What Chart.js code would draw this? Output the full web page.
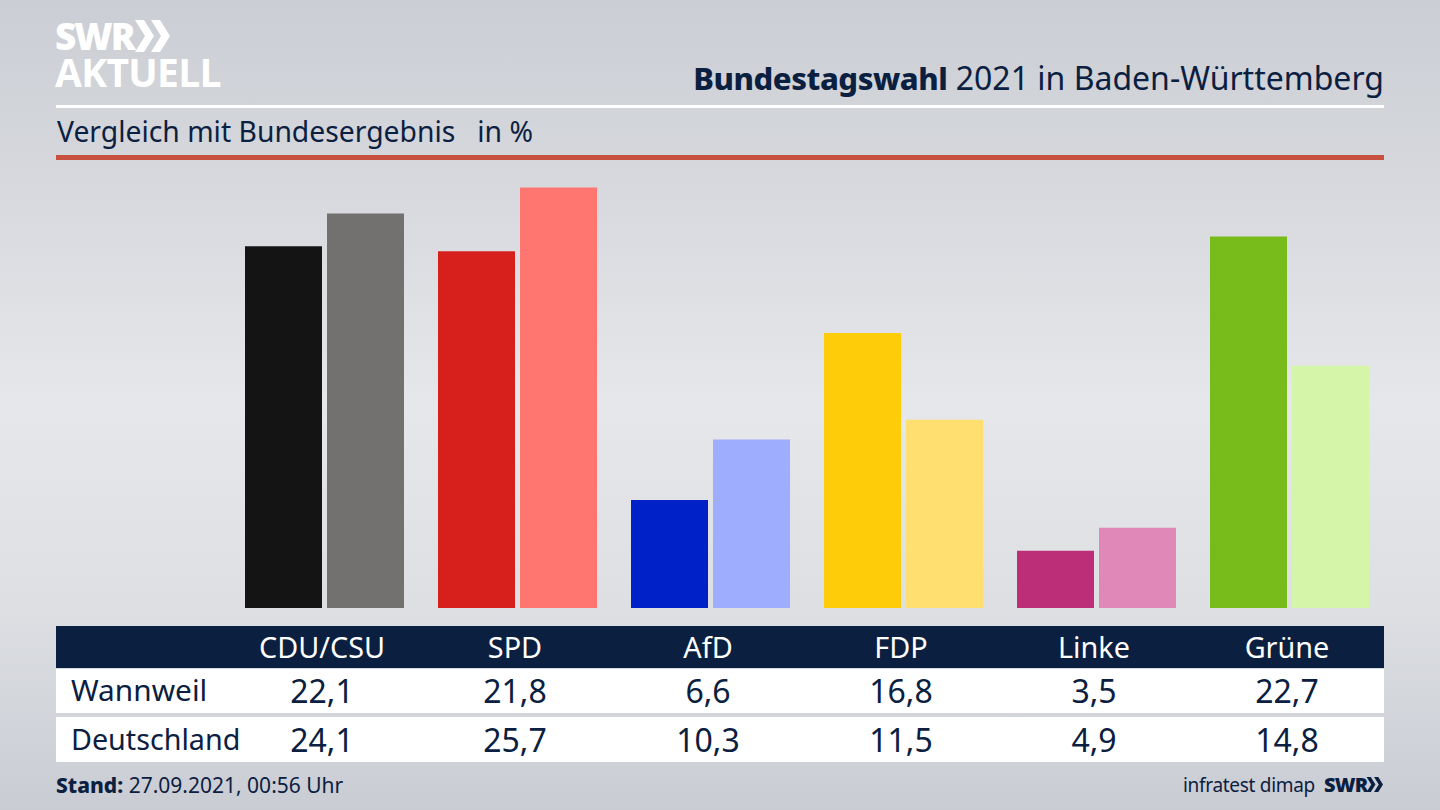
<!DOCTYPE html>
<html lang="de">
<head>
<meta charset="UTF-8">
<title>Bundestagswahl 2021 in Baden-Württemberg</title>
<script src="https://cdn.jsdelivr.net/npm/chart.js"></script>
<style>
  html, body { margin: 0; padding: 0; }
  body {
    width: 1440px; height: 810px; position: relative; overflow: hidden;
    background: linear-gradient(180deg, #cbced4 0%, #d6d8dd 22%, #e6e7ea 50%, #dddfe3 75%, #c9ccd3 100%);
    font-family: "Noto Sans", sans-serif; color: #0b2040;
  }
  .abs { position: absolute; white-space: nowrap; }
  #logo1, #logo2 { color: #fff; font-weight: 800; font-family: "Open Sans", sans-serif; line-height: 1; }
  #logo1 { left: 55px; top: 17px; font-size: 37px; letter-spacing: -2px; }
  #logo2 { left: 55px; top: 52px; font-size: 39px; letter-spacing: -.7px; font-weight: 700; }
  #title { right: 56px; top: 58px; font-size: 32px; line-height: 40px; }
  #title b { font-weight: 800; font-size: 31px; letter-spacing: -.45px; }
  #sub { left: 57px; top: 112px; font-size: 28.3px; line-height: 38px; }
  #rule1 { left: 56px; top: 105px; width: 1328px; height: 3px; background: #fff; }
  #rule2 { left: 56px; top: 155px; width: 1328px; height: 5px; background: #c8523f; }
  #chart { position: absolute; left: 228px; top: 182px; }
  .band { position: absolute; left: 56px; width: 1328px; }
  #head { top: 626px; height: 42px; background: #0b2040; }
  #row1 { top: 669px; height: 44px; background: #fff; }
  #row2 { top: 717px; height: 45px; background: #fff; }
  .cell { position: absolute; top: 0; width: 160px; margin-left: -80px; text-align: center; font-size: 32px; }
  #head .cell { color: #fff; font-size: 28.8px; line-height: 42px; }
  #row1 .cell { line-height: 44px; }
  #row2 .cell { line-height: 46px; }
  .name { position: absolute; left: 15px; top: -1px; line-height: 44px; }
  #row1 .name { font-size: 29.8px; }
  #row2 .name { font-size: 28.7px; top: 0; }
  #stand { left: 56px; top: 771px; font-size: 21px; line-height: 28px; }
  #stand b { font-weight: 800; }
  #source { left: 1183px; top: 771px; font-size: 19px; line-height: 28px; letter-spacing: -.3px; }
  #swr { left: 1324px; top: 771px; font-size: 20px; line-height: 28px; font-weight: 800; font-family: "Open Sans", sans-serif; letter-spacing: -.8px; }
</style>
</head>
<body>
  <div class="abs" id="logo1">SWR</div>
  <svg class="abs" style="left:135px;top:20px" width="36" height="32" viewBox="0 0 36 32">
    <path fill="#fff" d="M0 0h9l10 16L9 32H0l10-16zM16 0h9l10 16-10 16h-9l10-16z"/>
  </svg>
  <div class="abs" id="logo2">AKTUELL</div>
  <div class="abs" id="title"><b>Bundestagswahl</b> 2021 in Baden-Württemberg</div>
  <div class="abs" id="rule1"></div>
  <div class="abs" id="sub">Vergleich mit Bundesergebnis &nbsp; in %</div>
  <div class="abs" id="rule2"></div>

  <canvas id="chart" width="1158" height="426"></canvas>

  <div class="band" id="head"></div>
  <div class="band" id="row1"></div>
  <div class="band" id="row2"></div>

  <div class="abs" id="stand"><b>Stand:</b> 27.09.2021, 00:56 Uhr</div>
  <div class="abs" id="source">infratest dimap</div>
  <div class="abs" id="swr">SWR</div>
  <svg class="abs" style="left:1366px;top:777px" width="18" height="15" viewBox="0 0 36 32">
    <path fill="#0b2040" d="M0 0h9l10 16L9 32H0l10-16zM16 0h9l10 16-10 16h-9l10-16z"/>
  </svg>

<script>
  const parteien = ['CDU/CSU', 'SPD', 'AfD', 'FDP', 'Linke', 'Grüne'];
  const wannweil = [22.1, 21.8, 6.6, 16.8, 3.5, 22.7];
  const deutschland = [24.1, 25.7, 10.3, 11.5, 4.9, 14.8];
  const farbenWannweil = ['#141414', '#d71f1c', '#0021c7', '#ffcc0a', '#bc2f78', '#78bc1b'];
  const farbenDeutschland = ['#72716f', '#ff7570', '#9fadff', '#ffdf70', '#e088b8', '#d5f5a8'];

  new Chart(document.getElementById('chart'), {
    type: 'bar',
    data: {
      labels: parteien,
      datasets: [
        { label: 'Wannweil', data: wannweil, backgroundColor: farbenWannweil },
        { label: 'Deutschland', data: deutschland, backgroundColor: farbenDeutschland }
      ]
    },
    options: {
      responsive: false,
      animation: false,
      categoryPercentage: 164 / 193,
      barPercentage: 77 / 82,
      plugins: { legend: { display: false }, tooltip: { enabled: false } },
      scales: {
        x: { display: false },
        y: { display: false, min: 0, max: 26.03 }
      }
    }
  });

  // Tabelle unter dem Diagramm
  const mitten = [266, 459, 652, 845, 1038, 1231];
  function zeile(id, name, werte) {
    const el = document.getElementById(id);
    if (name) {
      const n = document.createElement('div');
      n.className = 'name';
      n.textContent = name;
      el.appendChild(n);
    }
    werte.forEach((w, i) => {
      const c = document.createElement('div');
      c.className = 'cell';
      c.style.left = mitten[i] + 'px';
      c.textContent = typeof w === 'number' ? w.toFixed(1).replace('.', ',') : w;
      el.appendChild(c);
    });
  }
  zeile('head', '', parteien);
  zeile('row1', 'Wannweil', wannweil);
  zeile('row2', 'Deutschland', deutschland);
</script>
</body>
</html>
